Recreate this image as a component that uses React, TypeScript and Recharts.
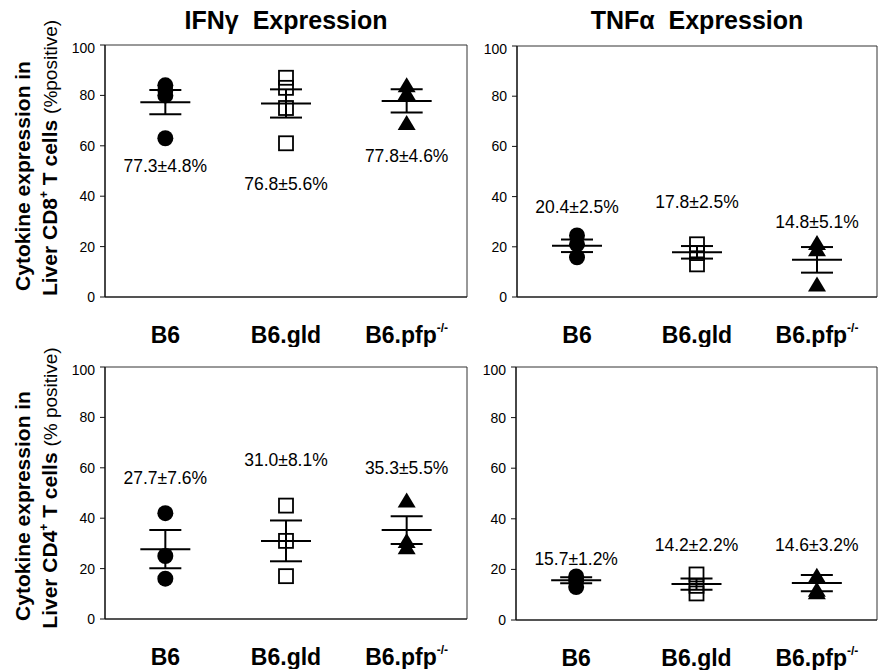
import React from 'react';
import { ScatterChart, Scatter, XAxis, YAxis, ErrorBar, ReferenceArea } from 'recharts';

const categories = ['B6', 'B6.gld', 'B6.pfp'];
const categorySup = ['', '', '-/-'];
const yTicks = [0, 20, 40, 60, 80, 100];

// IFN-gamma, CD8
const ifnCd8B6 = [84, 82, 80, 63];
const ifnCd8Gld = [87, 83, 75, 61];
const ifnCd8Pfp = [84, 81, 69];
const ifnCd8Mean = [77.3, 76.8, 77.8];
const ifnCd8Sem = [4.8, 5.6, 4.6];
const ifnCd8LabelY = [52, 45, 56];

// TNF-alpha, CD8
const tnfCd8B6 = [24.5, 21, 15.8];
const tnfCd8Gld = [21, 17.5, 13];
const tnfCd8Pfp = [21.5, 19, 5];
const tnfCd8Mean = [20.4, 17.8, 14.8];
const tnfCd8Sem = [2.5, 2.5, 5.1];
const tnfCd8LabelY = [36, 38, 30];

// IFN-gamma, CD4
const ifnCd4B6 = [42, 25, 16];
const ifnCd4Gld = [45, 31, 17];
const ifnCd4Pfp = [47, 31, 28.5];
const ifnCd4Mean = [27.7, 31.0, 35.3];
const ifnCd4Sem = [7.6, 8.1, 5.5];
const ifnCd4LabelY = [56, 63, 60];

// TNF-alpha, CD4
const tnfCd4B6 = [17.2, 15.5, 13];
const tnfCd4Gld = [18, 13.5, 10.5];
const tnfCd4Pfp = [17.5, 12, 11];
const tnfCd4Mean = [15.7, 14.2, 14.6];
const tnfCd4Sem = [1.2, 2.2, 3.2];
const tnfCd4LabelY = [24, 29.5, 29.5];

const FONT = "'Liberation Sans', Arial, Helvetica, sans-serif";

const toPts = (vals: number[], idx: number) => vals.map((v) => ({ x: idx + 0.5, y: v }));

const CircleShape = (p: any) => <circle cx={p.cx} cy={p.cy} r={8} fill="#000" />;
const SquareShape = (p: any) => (
  <rect x={p.cx - 7} y={p.cy - 7} width={14} height={14} fill="none" stroke="#000" strokeWidth={1.8} />
);
const TriangleShape = (p: any) => (
  <polygon points={`${p.cx},${p.cy - 8} ${p.cx - 9},${p.cy + 7} ${p.cx + 9},${p.cy + 7}`} fill="#000" />
);
const MeanShape = (p: any) => (
  <line x1={p.cx - 25} x2={p.cx + 25} y1={p.cy} y2={p.cy} stroke="#000" strokeWidth={2} />
);
const LabelShape = (p: any) => {
  const t = (p.payload && p.payload.text) || p.text;
  return (
    <text x={p.cx} y={p.cy} textAnchor="middle" dominantBaseline="central" fontSize={17.5} fill="#000" fontFamily={FONT}>
      {t}
    </text>
  );
};

const CatTick = (p: any) => {
  const i = Math.round(p.payload.value - 0.5);
  return (
    <text x={p.x} y={p.y + 44} textAnchor="middle" fontSize={23} fontWeight="bold" fill="#000" fontFamily={FONT}>
      {categories[i]}
      {categorySup[i] ? (
        <tspan dy={-11} fontSize={12}>
          {categorySup[i]}
        </tspan>
      ) : null}
    </text>
  );
};

type PanelProps = {
  left: number;
  top: number;
  w: number;
  h: number;
  b6: number[];
  gld: number[];
  pfp: number[];
  mean: number[];
  sem: number[];
  labelY: number[];
};

const Panel = ({ left, top, w, h, b6, gld, pfp, mean, sem, labelY }: PanelProps) => {
  const meanData = mean.map((m, i) => ({ x: i + 0.5, y: m, sem: sem[i] }));
  const labelData = labelY.map((ly, i) => ({
    x: i + 0.5,
    y: ly,
    text: `${mean[i].toFixed(1)}±${sem[i].toFixed(1)}%`,
  }));
  return (
    <div style={{ position: 'absolute', left, top }}>
      <ScatterChart width={w} height={h} margin={{ top: 5, right: 5, bottom: 0, left: 0 }}>
        <XAxis
          type="number"
          dataKey="x"
          domain={[0, 3]}
          ticks={[0.5, 1.5, 2.5]}
          tickLine={false}
          tickSize={0}
          tick={<CatTick />}
          height={50}
          axisLine={{ stroke: '#111', strokeWidth: 1.2 }}
          allowDataOverflow
        />
        <YAxis
          type="number"
          dataKey="y"
          domain={[0, 100]}
          ticks={yTicks}
          tickSize={5}
          tickMargin={5}
          width={60}
          axisLine={{ stroke: '#111', strokeWidth: 1.2 }}
          tickLine={{ stroke: '#111' }}
          tick={{ fontSize: 14, fill: '#000', fontFamily: FONT }}
          allowDataOverflow
        />
        <ReferenceArea x1={0} x2={3} y1={0} y2={100} fill="none" stroke="#333" strokeWidth={1} ifOverflow="visible" />
        <Scatter data={toPts(b6, 0)} shape={<CircleShape />} isAnimationActive={false} />
        <Scatter data={toPts(gld, 1)} shape={<SquareShape />} isAnimationActive={false} />
        <Scatter data={toPts(pfp, 2)} shape={<TriangleShape />} isAnimationActive={false} />
        <Scatter data={meanData} shape={<MeanShape />} isAnimationActive={false}>
          <ErrorBar dataKey="sem" direction="y" width={16} stroke="#000" strokeWidth={2} />
        </Scatter>
        <Scatter data={labelData} shape={<LabelShape />} isAnimationActive={false} />
      </ScatterChart>
    </div>
  );
};

const YLabel = ({ cx, cy, cd }: { cx: number; cy: number; cd: string }) => (
  <g fontFamily={FONT} fill="#000">
    <text x={cx - 27} y={cy + 18} transform={`rotate(-90 ${cx - 27} ${cy + 18})`} textAnchor="middle" fontSize={21} fontWeight="bold">
      Cytokine expression in
    </text>
    <text x={cx} y={cy} transform={`rotate(-90 ${cx} ${cy})`} textAnchor="middle" fontSize={21} fontWeight="bold">
      {`Liver ${cd}`}
      <tspan dy={-9} fontSize={12}>+</tspan>
      <tspan dy={9}>{' T cells '}</tspan>
      <tspan fontWeight="normal" fontSize={19}>{cd === 'CD8' ? '(%positive)' : '(% positive)'}</tspan>
    </text>
  </g>
);

export default function App() {
  return (
    <div style={{ position: 'absolute', left: 0, top: 0, width: 884, height: 672, background: '#fff', fontFamily: FONT }}>
      <svg width={884} height={672} style={{ position: 'absolute', left: 0, top: 0 }}>
        <text x={286} y={29} textAnchor="middle" fontSize={25} fontWeight="bold" fontFamily={FONT}>
          IFNγ{'\u00a0'} Expression
        </text>
        <text x={697} y={29} textAnchor="middle" fontSize={25} fontWeight="bold" fontFamily={FONT}>
          TNFα{'\u00a0'} Expression
        </text>
        <YLabel cx={57} cy={158} cd="CD8" />
        <YLabel cx={57} cy={488} cd="CD4" />
      </svg>
      <Panel left={45} top={40} w={427} h={307} b6={ifnCd8B6} gld={ifnCd8Gld} pfp={ifnCd8Pfp} mean={ifnCd8Mean} sem={ifnCd8Sem} labelY={ifnCd8LabelY} />
      <Panel left={457} top={41} w={425} h={306} b6={tnfCd8B6} gld={tnfCd8Gld} pfp={tnfCd8Pfp} mean={tnfCd8Mean} sem={tnfCd8Sem} labelY={tnfCd8LabelY} />
      <Panel left={45} top={362} w={427} h={307} b6={ifnCd4B6} gld={ifnCd4Gld} pfp={ifnCd4Pfp} mean={ifnCd4Mean} sem={ifnCd4Sem} labelY={ifnCd4LabelY} />
      <Panel left={456} top={362} w={426} h={308} b6={tnfCd4B6} gld={tnfCd4Gld} pfp={tnfCd4Pfp} mean={tnfCd4Mean} sem={tnfCd4Sem} labelY={tnfCd4LabelY} />
    </div>
  );
}
